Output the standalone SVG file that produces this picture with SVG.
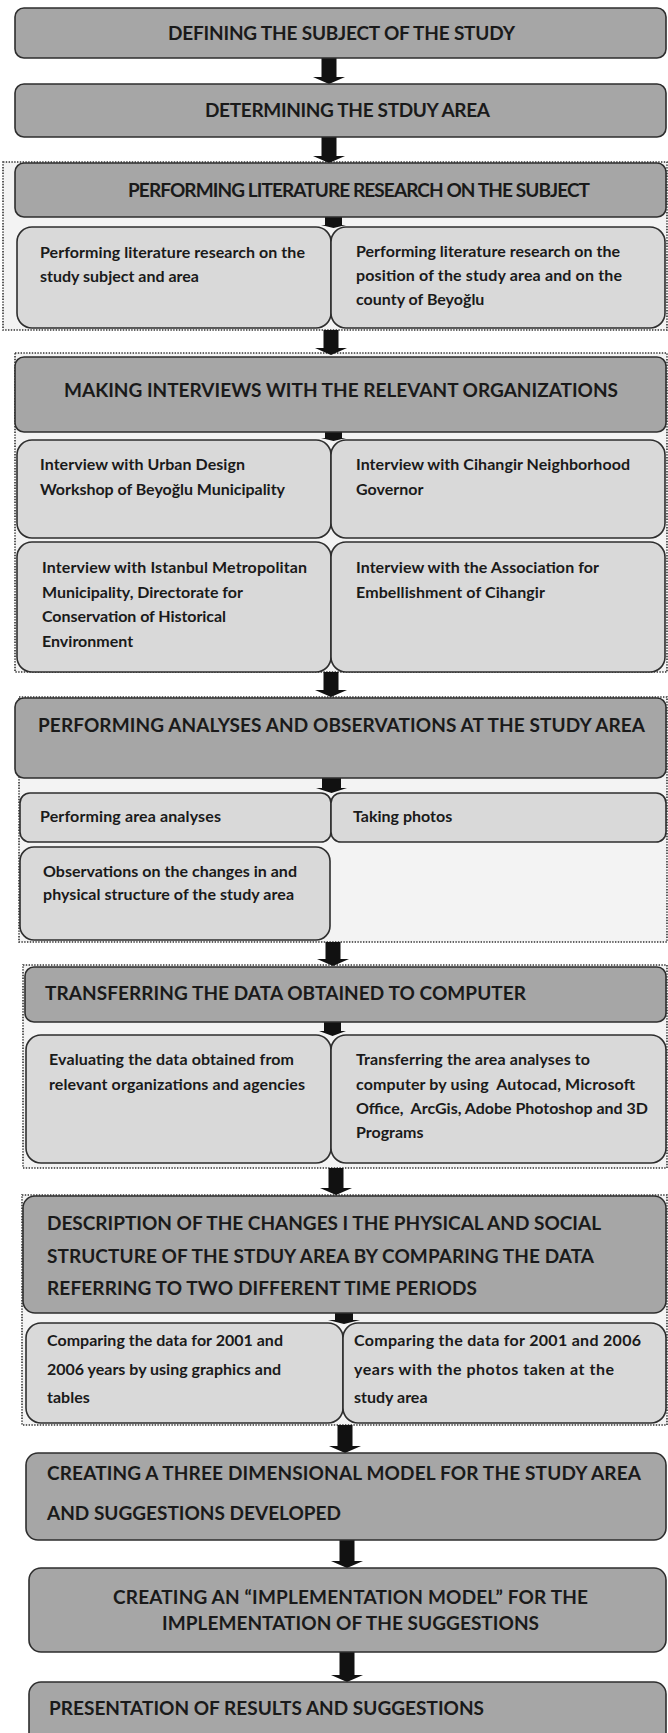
<svg xmlns="http://www.w3.org/2000/svg" width="668" height="1733" viewBox="0 0 668 1733">
<style>
.hdr{fill:#a6a6a6;stroke:#2e2e2e;stroke-width:1.6}
.sub{fill:#d9d9d9;stroke:#2e2e2e;stroke-width:1.6}
.cont{fill:#f3f3f3;stroke:#333;stroke-width:1.6;stroke-dasharray:1.4 1.4}
.ht{font-family:Lato,"Open Sans","Liberation Sans",sans-serif;font-weight:700;font-size:19px;fill:#1a1a1a}
.st{font-family:Lato,"Open Sans","Liberation Sans",sans-serif;font-weight:700;font-size:16px;fill:#1a1a1a}
.arr{fill:#111}
</style>
<rect width="668" height="1733" fill="#fff"/>

<!-- containers -->
<g id="containers">
<rect class="cont" x="3" y="162" width="664" height="168"/>
<rect class="cont" x="15" y="353" width="652" height="319"/>
<rect class="cont" x="19" y="697" width="648" height="245"/>
<rect class="cont" x="23" y="965" width="644" height="203"/>
<rect class="cont" x="22" y="1195" width="645" height="230"/>
</g>

<g id="connectors">
<path class="arr" d="M321.5,58H336.5V77H345L329,84L313,77H321.5Z"/>
<path class="arr" d="M321.5,137H336.5V156H345L329,163L313,156H321.5Z"/>
<path class="arr" d="M325,216H342V225H346L333.5,228L321,225H325Z"/>
<path class="arr" d="M323.5,330H338.5V348H347L331,355L315,348H323.5Z"/>
<path class="arr" d="M325,431H342V438H346L333.5,441L321,438H325Z"/>
<path class="arr" d="M323.5,672H338.5V690H347L331,697L315,690H323.5Z"/>
<path class="arr" d="M322,778H341V788H347L331.5,793L316,788H322Z"/>
<path class="arr" d="M325.5,942H340.5V959H349L333,966L317,959H325.5Z"/>
<path class="arr" d="M324,1021H341V1031H346L332.5,1036L319,1031H324Z"/>
<path class="arr" d="M328.5,1168H343.5V1188H352L336,1195L320,1188H328.5Z"/>
<path class="arr" d="M335,1312H353V1320H360L344,1324L328,1320H335Z"/>
<path class="arr" d="M337.5,1425H352.5V1446H361L345,1453L329,1446H337.5Z"/>
<path class="arr" d="M339.5,1540H354.5V1561H363L347,1568L331,1561H339.5Z"/>
<path class="arr" d="M339.5,1652H354.5V1675H363L347,1682L331,1675H339.5Z"/>
</g>

<g id="n1">
<rect class="hdr" x="15" y="8" width="651" height="50" rx="9"/>
<text class="ht" x="168" y="40" textLength="347">DEFINING THE SUBJECT OF THE STUDY</text>
</g>
<g id="n2">
<rect class="hdr" x="15" y="84" width="651" height="53" rx="9"/>
<text class="ht" x="205" y="117" textLength="285">DETERMINING THE STDUY AREA</text>
</g>
<g id="n3">
<rect class="hdr" x="15" y="163" width="651" height="54" rx="9"/>
<text class="ht" x="128" y="197" textLength="462">PERFORMING LITERATURE RESEARCH ON THE SUBJECT</text>
</g>
<g id="n3a">
<rect class="sub" x="17" y="227" width="314" height="101" rx="15"/>
<text class="st" x="40" y="258" textLength="265">Performing literature research on the</text>
<text class="st" x="40" y="282">study subject and area</text>
</g>
<g id="n3b">
<rect class="sub" x="331" y="227" width="334" height="101" rx="15"/>
<text class="st" x="356" y="257" textLength="264">Performing literature research on the</text>
<text class="st" x="356" y="281" textLength="266">position of the study area and on the</text>
<text class="st" x="356" y="305">county of Beyoğlu</text>
</g>

<g id="n4">
<rect class="hdr" x="15" y="357" width="651" height="75" rx="9"/>
<text class="ht" x="64" y="397" textLength="554">MAKING INTERVIEWS WITH THE RELEVANT ORGANIZATIONS</text>
</g>
<g id="n4a">
<rect class="sub" x="17" y="440" width="314" height="98" rx="15"/>
<text class="st" x="40" y="470" textLength="205">Interview with Urban Design</text>
<text class="st" x="40" y="495" textLength="245">Workshop of Beyoğlu Municipality</text>
</g>
<g id="n4b">
<rect class="sub" x="331" y="440" width="334" height="98" rx="15"/>
<text class="st" x="356" y="470" textLength="274">Interview with Cihangir Neighborhood</text>
<text class="st" x="356" y="495">Governor</text>
</g>
<g id="n4c">
<rect class="sub" x="17" y="542" width="314" height="130" rx="15"/>
<text class="st" x="42" y="573" textLength="265">Interview with Istanbul Metropolitan</text>
<text class="st" x="42" y="598" textLength="201">Municipality, Directorate for</text>
<text class="st" x="42" y="622" textLength="184">Conservation of Historical</text>
<text class="st" x="42" y="647">Environment</text>
</g>
<g id="n4d">
<rect class="sub" x="331" y="542" width="334" height="130" rx="15"/>
<text class="st" x="356" y="573" textLength="243">Interview with the Association for</text>
<text class="st" x="356" y="598" textLength="189">Embellishment of Cihangir</text>
</g>

<g id="n5">
<rect class="hdr" x="15" y="698" width="651" height="80" rx="9"/>
<text class="ht" x="38" y="732" textLength="607">PERFORMING ANALYSES AND OBSERVATIONS AT THE STUDY AREA</text>
</g>
<g id="n5a">
<rect class="sub" x="20" y="793" width="311" height="49" rx="10"/>
<text class="st" x="40" y="822" textLength="181">Performing area analyses</text>
</g>
<g id="n5b">
<rect class="sub" x="331" y="793" width="335" height="49" rx="10"/>
<text class="st" x="353" y="822">Taking photos</text>
</g>
<g id="n5c">
<rect class="sub" x="20" y="847" width="310" height="93" rx="14"/>
<text class="st" x="43" y="877" textLength="254">Observations on the changes in and</text>
<text class="st" x="43" y="900" textLength="251">physical structure of the study area</text>
</g>

<g id="n6">
<rect class="hdr" x="25" y="967" width="641" height="55" rx="9"/>
<text class="ht" x="45" y="1000" textLength="481">TRANSFERRING THE DATA OBTAINED TO COMPUTER</text>
</g>
<g id="n6a">
<rect class="sub" x="26" y="1035" width="305" height="128" rx="15"/>
<text class="st" x="49" y="1065" textLength="245">Evaluating the data obtained from</text>
<text class="st" x="49" y="1090" textLength="256">relevant organizations and agencies</text>
</g>
<g id="n6b">
<rect class="sub" x="331" y="1035" width="335" height="128" rx="15"/>
<text class="st" x="356" y="1065" textLength="234">Transferring the area analyses to</text>
<text class="st" x="356" y="1090" textLength="279" xml:space="preserve">computer by using  Autocad, Microsoft</text>
<text class="st" x="356" y="1114" textLength="292" xml:space="preserve">Office,  ArcGis, Adobe Photoshop and 3D</text>
<text class="st" x="356" y="1138">Programs</text>
</g>

<g id="n7">
<rect class="hdr" x="23" y="1196" width="643" height="117" rx="12"/>
<text class="ht" x="47" y="1230" textLength="554">DESCRIPTION OF THE CHANGES I THE PHYSICAL AND SOCIAL</text>
<text class="ht" x="47" y="1263" textLength="547">STRUCTURE OF THE STDUY AREA BY COMPARING THE DATA</text>
<text class="ht" x="47" y="1295" textLength="430">REFERRING TO TWO DIFFERENT TIME PERIODS</text>
</g>
<g id="n7a">
<rect class="sub" x="26" y="1323" width="317" height="100" rx="15"/>
<text class="st" x="47" y="1346" textLength="236">Comparing the data for 2001 and</text>
<text class="st" x="47" y="1375" textLength="234">2006 years by using graphics and</text>
<text class="st" x="47" y="1403">tables</text>
</g>
<g id="n7b">
<rect class="sub" x="343" y="1323" width="323" height="100" rx="15"/>
<text class="st" x="354" y="1346" textLength="287">Comparing the data for 2001 and 2006</text>
<text class="st" x="354" y="1375" textLength="260">years with the photos taken at the</text>
<text class="st" x="354" y="1403">study area</text>
</g>

<g id="n8">
<rect class="hdr" x="26" y="1453" width="640" height="87" rx="12"/>
<text class="ht" x="47" y="1480" textLength="594">CREATING A THREE DIMENSIONAL MODEL FOR THE STUDY AREA</text>
<text class="ht" x="47" y="1520" textLength="294">AND SUGGESTIONS DEVELOPED</text>
</g>
<g id="n9">
<rect class="hdr" x="29" y="1568" width="637" height="84" rx="12"/>
<text class="ht" x="113" y="1604" textLength="475">CREATING AN “IMPLEMENTATION MODEL” FOR THE</text>
<text class="ht" x="162" y="1630" textLength="377">IMPLEMENTATION OF THE SUGGESTIONS</text>
</g>
<g id="n10">
<rect class="hdr" x="29" y="1682" width="637" height="72" rx="12"/>
<text class="ht" x="49" y="1715" textLength="435">PRESENTATION OF RESULTS AND SUGGESTIONS</text>
</g>
</svg>
